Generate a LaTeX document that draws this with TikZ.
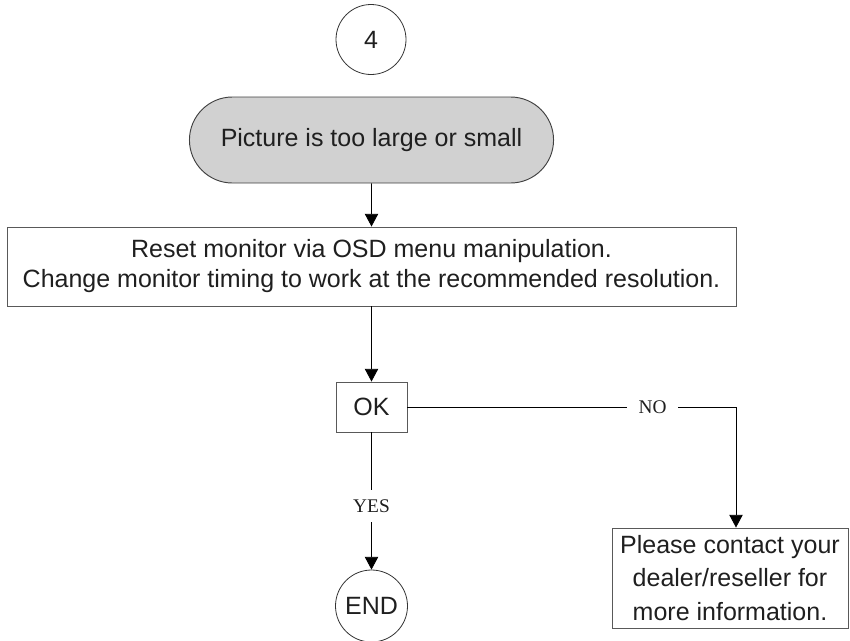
\documentclass[tikz,border=0pt]{standalone}
\usepackage{fontspec}
\setmainfont{Liberation Sans}
\newfontfamily\labelserif{Liberation Serif}
\usetikzlibrary{shapes.misc,arrows.meta}
\begin{document}
\begin{tikzpicture}[x=0.75pt,y=-0.75pt,
  every node/.style={text=black!88},
  boxtext/.style={font=\fontsize{18.75pt}{22.5pt}\selectfont},
  conn/.style={circle,draw=black!80,line width=0.6pt,inner sep=0pt,minimum size=#1,font=\fontsize{18.75pt}{22.5pt}\selectfont},
  stadium/.style={rounded rectangle,draw=black!75,fill=black!18,line width=0.7pt,minimum width=279.75pt,minimum height=64.5pt,font=\fontsize{18.75pt}{22.5pt}\selectfont},
  actionbox/.style={rectangle,draw=black!65,line width=0.7pt,align=center,inner sep=0pt},
  branch/.style={font=\labelserif\fontsize{14.5pt}{16pt}\selectfont,inner sep=0pt},
  flow/.style={draw=black,line width=0.6pt},
  arrowflow/.style={flow,-{Triangle[width=10pt,length=9.5pt]}}
]
\useasboundingbox (0,0) rectangle (850,640);

\node[conn=52.5pt] (four) at (371,39.5) {4};
\node[stadium] (start) at (371.5,140) {Picture is too large or small};
\node[actionbox,boxtext,minimum width=546.75pt,minimum height=59.25pt] (reset) at (371.5,266.5)
  {Reset monitor via OSD menu manipulation.\\Change monitor timing to work at the recommended resolution.};
\node[actionbox,boxtext,minimum width=53.25pt,minimum height=37.5pt] (ok) at (371.5,407) {OK};
\node[actionbox,font=\fontsize{18.75pt}{25pt}\selectfont,minimum width=177pt,minimum height=75pt] (contact) at (730,578)
  {Please contact your\\dealer/reseller for\\more information.};
\node[conn=54pt] (end) at (371.5,606) {END};

\node[branch,minimum width=38.25pt,minimum height=12pt] (no) at (652.5,407) {NO};
\node[branch,minimum height=24pt,minimum width=30pt] (yes) at (371.5,506) {YES};
\coordinate (corner) at (736,407);

\draw[arrowflow] (start) -- (reset);
\draw[arrowflow] (reset) -- (ok);
\draw[flow] (ok.east) -- (no.west);
\draw[arrowflow] (no.east) -- (corner) -- (corner |- contact.north);
\draw[flow] (ok.south) -- (yes.north);
\draw[arrowflow] (yes.south) -- (end.north);
\end{tikzpicture}
\end{document}
